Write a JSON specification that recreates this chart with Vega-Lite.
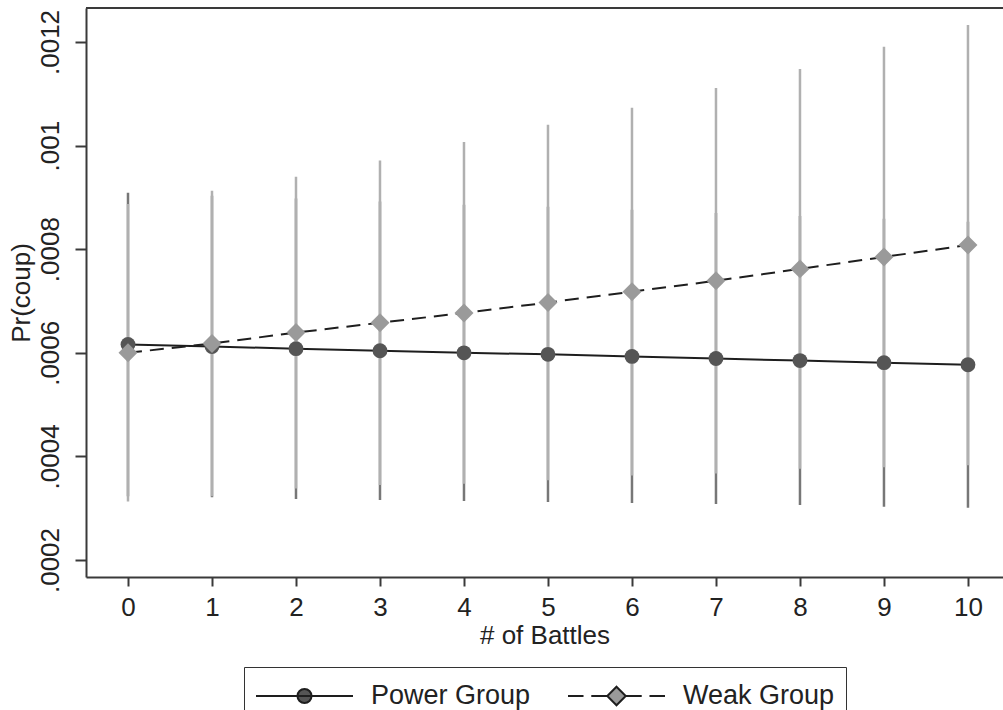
{
  "$schema": "https://vega.github.io/schema/vega-lite/v6.json",
  "autosize": {"type": "none"},
  "padding": {"left": 86, "top": 8, "right": 0, "bottom": 133},
  "width": 917,
  "height": 569,
  "background": "white",
  "config": {
    "view": {"stroke": null},
    "font": "Liberation Sans",
    "axis": {
      "grid": false,
      "domainColor": "#3a3a3a",
      "domainWidth": 2,
      "tickColor": "#3a3a3a",
      "tickWidth": 2,
      "labelFont": "Liberation Sans",
      "labelFontSize": 26,
      "labelColor": "#222222",
      "titleFont": "Liberation Sans",
      "titleFontSize": 26,
      "titleFontWeight": "normal",
      "titleColor": "#222222"
    },
    "legend": {
      "layout": {"bottom": {"anchor": "middle"}}
    }
  },
  "data": {
    "values": [
      {"battles": 0, "group": "Power Group", "pr": 0.000616, "lo": 0.000323, "hi": 0.000909},
      {"battles": 1, "group": "Power Group", "pr": 0.000612, "lo": 0.000321, "hi": 0.000903},
      {"battles": 2, "group": "Power Group", "pr": 0.000608, "lo": 0.000318, "hi": 0.000898},
      {"battles": 3, "group": "Power Group", "pr": 0.000604, "lo": 0.000316, "hi": 0.000892},
      {"battles": 4, "group": "Power Group", "pr": 0.0006, "lo": 0.000314, "hi": 0.000886},
      {"battles": 5, "group": "Power Group", "pr": 0.000597, "lo": 0.000312, "hi": 0.000882},
      {"battles": 6, "group": "Power Group", "pr": 0.000593, "lo": 0.00031, "hi": 0.000876},
      {"battles": 7, "group": "Power Group", "pr": 0.000589, "lo": 0.000308, "hi": 0.00087},
      {"battles": 8, "group": "Power Group", "pr": 0.000585, "lo": 0.000306, "hi": 0.000864},
      {"battles": 9, "group": "Power Group", "pr": 0.000581, "lo": 0.000303, "hi": 0.000859},
      {"battles": 10, "group": "Power Group", "pr": 0.000577, "lo": 0.000301, "hi": 0.000853},
      {"battles": 0, "group": "Weak Group", "pr": 0.0006, "lo": 0.000313, "hi": 0.000887},
      {"battles": 1, "group": "Weak Group", "pr": 0.000618, "lo": 0.000323, "hi": 0.000913},
      {"battles": 2, "group": "Weak Group", "pr": 0.000639, "lo": 0.000338, "hi": 0.00094},
      {"battles": 3, "group": "Weak Group", "pr": 0.000658, "lo": 0.000345, "hi": 0.000971},
      {"battles": 4, "group": "Weak Group", "pr": 0.000677, "lo": 0.000347, "hi": 0.001007},
      {"battles": 5, "group": "Weak Group", "pr": 0.000697, "lo": 0.000354, "hi": 0.00104},
      {"battles": 6, "group": "Weak Group", "pr": 0.000718, "lo": 0.000363, "hi": 0.001073},
      {"battles": 7, "group": "Weak Group", "pr": 0.000739, "lo": 0.000367, "hi": 0.001111},
      {"battles": 8, "group": "Weak Group", "pr": 0.000762, "lo": 0.000376, "hi": 0.001148},
      {"battles": 9, "group": "Weak Group", "pr": 0.000785, "lo": 0.000379, "hi": 0.001191},
      {"battles": 10, "group": "Weak Group", "pr": 0.000808, "lo": 0.000383, "hi": 0.001233}
    ]
  },
  "encoding": {
    "x": {
      "field": "battles",
      "type": "quantitative",
      "scale": {"domain": [-0.5, 10.417], "nice": false, "zero": false},
      "axis": {
        "title": "# of Battles",
        "values": [0, 1, 2, 3, 4, 5, 6, 7, 8, 9, 10],
        "tickSize": 9,
        "labelPadding": 8,
        "titlePadding": 2,
        "labelFlush": false
      }
    },
    "y": {
      "field": "pr",
      "type": "quantitative",
      "scale": {"domain": [0.0001672, 0.0012656], "nice": false, "zero": false},
      "axis": {
        "title": "Pr(coup)",
        "values": [0.0002, 0.0004, 0.0006, 0.0008, 0.001, 0.0012],
        "labelExpr": "substring(format(datum.value, '.4~f'), 1)",
        "labelAngle": -90,
        "tickSize": 11,
        "labelPadding": 12,
        "titlePadding": 3,
        "labelFlush": false
      }
    }
  },
  "layer": [
    {
      "transform": [{"filter": "datum.group === 'Power Group'"}],
      "mark": {"type": "rule", "strokeWidth": 2.5, "color": "#777777"},
      "encoding": {
        "y": {"field": "lo", "type": "quantitative"},
        "y2": {"field": "hi"}
      }
    },
    {
      "transform": [{"filter": "datum.group === 'Weak Group'"}],
      "mark": {"type": "rule", "strokeWidth": 2.5, "color": "#b0b0b0"},
      "encoding": {
        "y": {"field": "lo", "type": "quantitative"},
        "y2": {"field": "hi"}
      }
    },
    {
      "transform": [{"filter": "datum.group === 'Power Group'"}],
      "mark": {"type": "line", "color": "#1e1e1e", "strokeWidth": 2},
      "encoding": {}
    },
    {
      "transform": [{"filter": "datum.group === 'Weak Group'"}],
      "mark": {"type": "line", "color": "#1e1e1e", "strokeWidth": 2, "strokeDash": [14, 8]},
      "encoding": {}
    },
    {
      "transform": [{"filter": "datum.group === 'Power Group'"}],
      "mark": {"type": "point", "shape": "circle", "filled": true, "fill": "#555555", "size": 220, "opacity": 1}
    },
    {
      "transform": [{"filter": "datum.group === 'Weak Group'"}],
      "mark": {"type": "point", "shape": "diamond", "filled": true, "fill": "#9a9a9a", "size": 360, "opacity": 1}
    },
    {
      "transform": [{"filter": "datum.battles < -100"}],
      "mark": {"type": "point", "filled": true, "strokeWidth": 2, "opacity": 1},
      "encoding": {
        "shape": {
          "field": "group",
          "type": "nominal",
          "scale": {
            "domain": ["Power Group", "Weak Group"],
            "range": [
              "M-1,0H1M-0.145,0A0.145,0.145,0,1,0,0.145,0A0.145,0.145,0,1,0,-0.145,0Z",
              "M-1,0H-0.68M-0.52,0H-0.19M0.19,0H0.52M0.68,0H1M0,-0.19L0.19,0L0,0.19L-0.19,0Z"
            ]
          },
          "legend": {
            "title": null,
            "orient": "bottom",
            "direction": "horizontal",
            "offset": 19,
            "padding": 11,
            "symbolSize": 9409,
            "clipHeight": 36,
            "symbolStrokeWidth": 2,
            "labelFontSize": 27,
            "labelFont": "Liberation Sans",
            "labelColor": "#222222",
            "labelOffset": 17,
            "columnPadding": 36,
            "strokeColor": "#333333",
            "fillColor": "white"
          }
        },
        "fill": {
          "field": "group",
          "type": "nominal",
          "scale": {"domain": ["Power Group", "Weak Group"], "range": ["#555555", "#999999"]}
        },
        "stroke": {
          "field": "group",
          "type": "nominal",
          "scale": {"domain": ["Power Group", "Weak Group"], "range": ["#1e1e1e", "#1e1e1e"]}
        }
      }
    },
    {
      "mark": {"type": "rule", "color": "#3a3a3a", "strokeWidth": 2},
      "encoding": {"y": {"datum": 0.0012656}, "x": null}
    }
  ]
}
